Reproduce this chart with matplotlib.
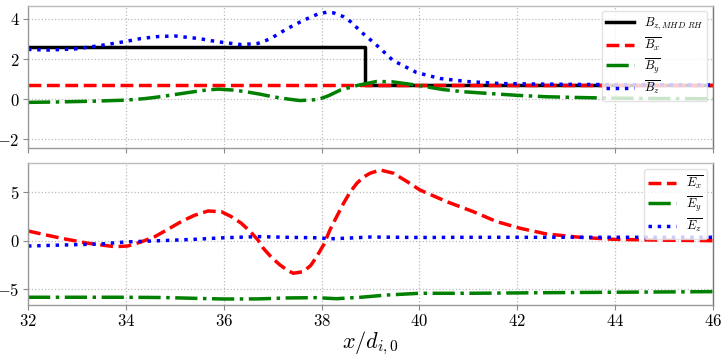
import matplotlib
matplotlib.use("Agg")
import matplotlib.pyplot as plt

plt.rcParams['font.family'] = 'serif'
plt.rcParams['font.serif'] = ['cmr10']
plt.rcParams['mathtext.fontset'] = 'cm'
plt.rcParams['axes.formatter.use_mathtext'] = True

# ---- Top panel data ----
x_rh = [32.0, 38.89, 38.89, 46.0]
bz_rh = [2.62, 2.62, 0.70, 0.70]

x_bx = [32.0, 46.0]
bx = [0.70, 0.70]

x_by = [32.0, 32.6, 33.36, 33.98, 34.4, 34.73, 35.0, 35.33, 35.6, 35.88, 36.22, 36.5, 36.74,
        37.0, 37.3, 37.56, 37.93, 38.15, 38.38, 38.72, 39.12, 39.43, 39.94, 40.48, 40.9,
        41.44, 42.0, 42.6, 43.3, 43.96, 45.0, 46.0]
by = [-0.16, -0.14, -0.10, -0.05, 0.03, 0.13, 0.23, 0.35, 0.44, 0.50, 0.45, 0.35, 0.25,
      0.12, 0.01, -0.07, -0.02, 0.18, 0.45, 0.68, 0.88, 0.87, 0.70, 0.48, 0.37,
      0.28, 0.19, 0.12, 0.08, 0.05, 0.03, 0.02]

x_bz = [32.0, 32.4, 32.95, 33.47, 33.98, 34.3, 34.65, 35.0, 35.5, 35.85, 36.36, 36.7, 36.87,
        37.0, 37.3, 37.62, 37.93, 38.1, 38.25, 38.44, 38.6, 38.82, 39.09, 39.46, 39.94,
        40.42, 40.97, 41.65, 42.5, 43.5, 44.5, 46.0]
bz = [2.48, 2.45, 2.50, 2.67, 2.87, 3.02, 3.12, 3.15, 3.02, 2.87, 2.72, 2.78, 2.93,
      3.08, 3.52, 3.92, 4.25, 4.33, 4.30, 4.12, 3.85, 3.33, 2.77, 1.93, 1.33,
      1.03, 0.88, 0.78, 0.75, 0.73, 0.72, 0.71]

# ---- Bottom panel data ----
x_ex = [32.0, 32.68, 33.23, 33.77, 34.04, 34.3, 34.59, 34.85, 35.13, 35.4, 35.68, 35.95,
        36.15, 36.36, 36.55, 36.7, 36.81, 36.98, 37.15, 37.3, 37.42, 37.63, 37.78, 37.9,
        38.05, 38.17, 38.31, 38.45, 38.58, 38.72, 38.85, 38.99, 39.2, 39.47, 39.75,
        40.01, 40.56, 41.1, 41.58, 42.06, 42.6, 43.28, 43.97, 45.0, 46.0]
ex = [1.0, 0.25, -0.27, -0.62, -0.55, -0.15, 0.41, 1.15, 1.97, 2.62, 3.07, 3.0,
      2.5, 1.8, 0.9, 0.07, -0.79, -1.75, -2.51, -3.05, -3.37, -3.2, -2.55, -1.65,
      -0.35, 1.1, 2.5, 3.87, 5.0, 5.93, 6.55, 6.97, 7.31, 6.97, 6.1,
      5.24, 4.03, 3.0, 1.97, 1.28, 0.69, 0.35, 0.14, 0.05, 0.0]

x_ey = [32.0, 33.0, 34.0, 34.8, 35.4, 36.0, 36.7, 37.3, 37.9, 38.3, 38.8, 39.33, 40.0,
        41.0, 42.5, 44.0, 46.0]
ey = [-5.85, -5.85, -5.85, -5.88, -5.96, -6.03, -6.02, -5.92, -5.89, -6.0, -5.85, -5.62, -5.44,
      -5.44, -5.38, -5.33, -5.27]

x_ez = [32.0, 33.5, 34.0, 34.7, 35.4, 36.0, 36.7, 37.3, 37.9, 38.2, 38.6, 39.0, 40.0,
        41.0, 43.0, 46.0]
ez = [-0.55, -0.34, -0.13, 0.0, 0.14, 0.3, 0.42, 0.35, 0.3, 0.2, 0.28, 0.38, 0.33,
      0.35, 0.35, 0.35]

xticks = [32, 34, 36, 38, 40, 42, 44, 46]

fig = plt.figure(figsize=(7.25, 3.57), dpi=100)
W, H = 725, 357
ax1 = fig.add_axes([28 / W, 1 - 148.3 / H, (713 - 28) / W, (148.3 - 5.7) / H])
ax2 = fig.add_axes([28 / W, 1 - 305 / H, (713 - 28) / W, (305 - 163.3) / H], sharex=ax1)

lw = 2.5
ax1.plot(x_rh, bz_rh, color='black', lw=lw, label=r'$B_{z,MHD\ RH}$')
ax1.plot(x_bx, bx, color='red', lw=lw, ls='--', label=r'$\overline{B_x}$')
ax1.plot(x_by, by, color='green', lw=lw, ls='-.', label=r'$\overline{B_y}$')
ax1.plot(x_bz, bz, color='blue', lw=lw, ls=':', label=r'$\overline{B_z}$')

ax2.plot(x_ex, ex, color='red', lw=lw, ls='--', label=r'$\overline{E_x}$')
ax2.plot(x_ey, ey, color='green', lw=lw, ls='-.', label=r'$\overline{E_y}$')
ax2.plot(x_ez, ez, color='blue', lw=lw, ls=':', label=r'$\overline{E_z}$')

ax1.set_xlim(32, 46)
ax1.set_ylim(-2.45, 4.66)
ax2.set_ylim(-6.65, 8.0)
ax1.set_xticks(xticks)
ax1.set_yticks([-2, 0, 2, 4])
ax2.set_yticks([-5, 0, 5])
plt.setp(ax1.get_xticklabels(), visible=False)

for ax in (ax1, ax2):
    ax.grid(True, ls=':', color='#bbbbbb', lw=0.9)
    ax.tick_params(labelsize=12, color='#888888', length=3.5, width=0.8, pad=2.5)
    for side, sp in ax.spines.items():
        sp.set_color('#999999')
        sp.set_linewidth(1.0)
    ax.spines['top'].set_color('#bbbbbb')
    ax.spines['right'].set_color('#777777')
    ax.legend(loc='upper right', fontsize=9, framealpha=0.8, edgecolor='#dddddd',
              labelspacing=0.25, handlelength=2.2, handletextpad=0.8,
              borderaxespad=0.45, borderpad=0.35)

ax2.set_xlabel(r'$x/d_{i,0}$', fontsize=16, labelpad=0)

fig.savefig('out.png', dpi=100)
